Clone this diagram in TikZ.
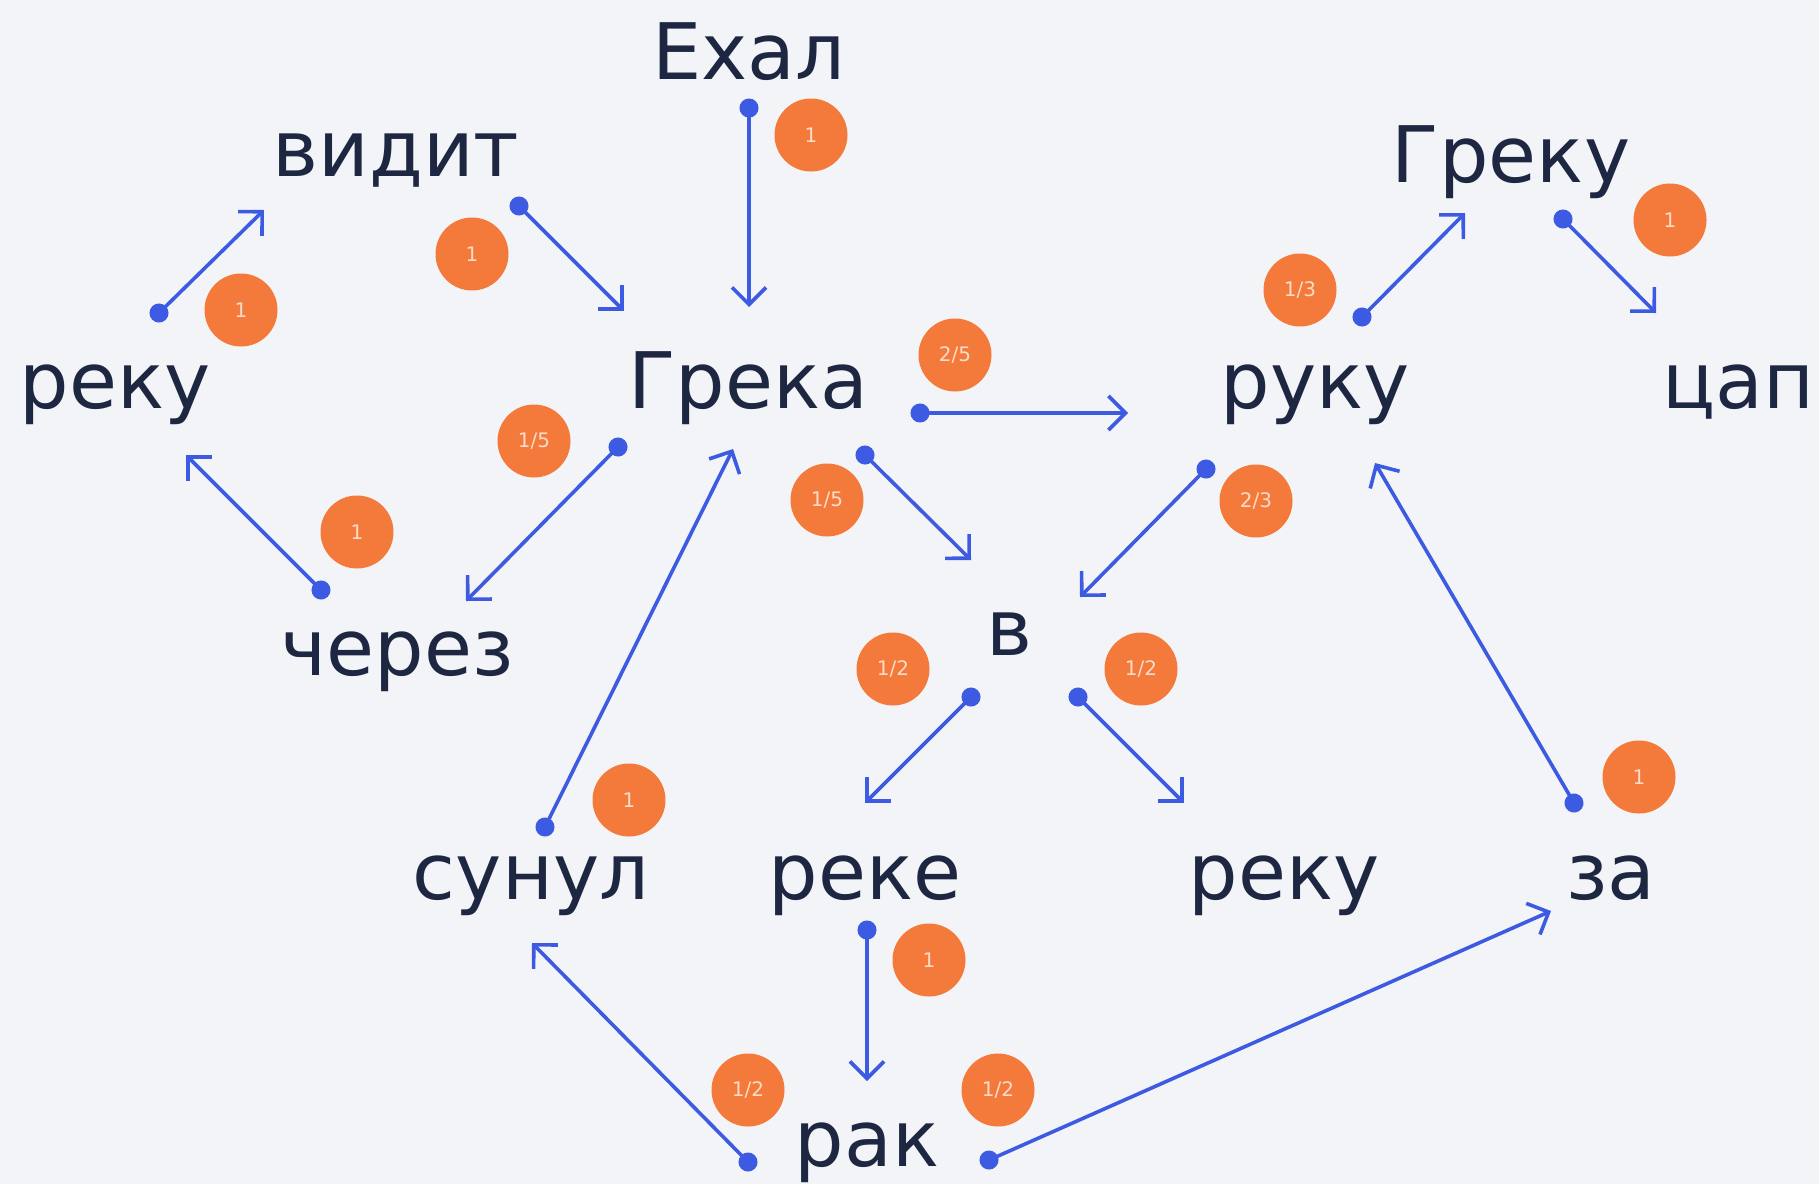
\documentclass[tikz,border=0pt]{standalone}
\usepackage{fontspec}
\setmainfont{DejaVu Sans}
\usetikzlibrary{arrows.meta}
\definecolor{bgc}{HTML}{F3F4F7}
\definecolor{wordc}{HTML}{1E2742}
\definecolor{linec}{HTML}{3D5BE2}
\definecolor{badgec}{HTML}{F47A3C}
\definecolor{badgetxt}{HTML}{FCDCC8}
\tikzset{
  word/.style={anchor=base, text=wordc, inner sep=0pt, font=\fontsize{78}{90}\selectfont},
  badge/.style={circle, fill=badgec, minimum size=73pt, inner sep=0pt, text=badgetxt, font=\fontsize{20}{24}\selectfont},
  conn/.style={draw=linec, line width=3.6pt, {Circle[length=19pt]}-{Straight Barb[length=17pt,width=34pt,line width=0pt 1]}, shorten <=-9.5pt},
}
\begin{document}
\begin{tikzpicture}[x=1pt,y=-1pt]
\fill[bgc] (0,0) rectangle (1819,1184);
\useasboundingbox (0,0) rectangle (1819,1184);
% words
\node[word] (exal) at (749,79) {Ехал};
\node[word] (vidit) at (396,176) {видит};
\node[word] (greku) at (1511,182) {Греку};
\node[word] (rekuL) at (115,408) {реку};
\node[word] (greka) at (748,408) {Грека};
\node[word] (ruku) at (1315,408) {руку};
\node[word] (cap) at (1738,408) {цап};
\node[word] (cherez) at (397,675) {через};
\node[word] (v) at (1009,655) {в};
\node[word] (sunul) at (531,899) {сунул};
\node[word] (reke) at (865,899) {реке};
\node[word] (rekuR) at (1284,899) {реку};
\node[word] (za) at (1611,899) {за};
\node[word] (rak) at (867,1166) {рак};
% badges
\node[badge] (b1) at (811,135) {1};
\node[badge] (b2) at (472,254) {1};
\node[badge] (b3) at (241,310) {1};
\node[badge] (b4) at (1670,220) {1};
\node[badge] (b5) at (1300,290) {1/3};
\node[badge] (b6) at (955,355) {2/5};
\node[badge] (b7) at (534,441) {1/5};
\node[badge] (b8) at (827,500) {1/5};
\node[badge] (b9) at (357,532) {1};
\node[badge] (b10) at (1256,501) {2/3};
\node[badge] (b11) at (893,669) {1/2};
\node[badge] (b12) at (1141,669) {1/2};
\node[badge] (b13) at (629,800) {1};
\node[badge] (b14) at (1639,777) {1};
\node[badge] (b15) at (929,960) {1};
\node[badge] (b16) at (748,1090) {1/2};
\node[badge] (b17) at (998,1090) {1/2};
% connector endpoints
\coordinate (s1) at (749,108);  \coordinate (e1) at (749,307);
\coordinate (s2) at (519,206);  \coordinate (e2) at (624,311);
\coordinate (s3) at (159,313);  \coordinate (e3) at (264,210);
\coordinate (s4) at (618,447);  \coordinate (e4) at (466,601);
\coordinate (s5) at (321,590);  \coordinate (e5) at (186,455);
\coordinate (s6) at (865,455);  \coordinate (e6) at (971,560);
\coordinate (s7) at (920,413);  \coordinate (e7) at (1128,413);
\coordinate (s8) at (1362,317); \coordinate (e8) at (1465,213);
\coordinate (s9) at (1563,219); \coordinate (e9) at (1656,313);
\coordinate (s10) at (1206,469); \coordinate (e10) at (1080,597);
\coordinate (s11) at (971,697); \coordinate (e11) at (865,803);
\coordinate (s12) at (1078,697); \coordinate (e12) at (1184,803);
\coordinate (s13) at (545,827); \coordinate (e13) at (733,449);
\coordinate (s14) at (1574,803); \coordinate (e14) at (1375,463);
\coordinate (s15) at (867,930); \coordinate (e15) at (867,1081);
\coordinate (s16) at (748,1162); \coordinate (e16) at (532,943);
\coordinate (s17) at (989,1160); \coordinate (e17) at (1551,911);
\foreach \i in {1,...,17}{\draw[conn] (s\i) -- (e\i);}
\end{tikzpicture}
\end{document}
